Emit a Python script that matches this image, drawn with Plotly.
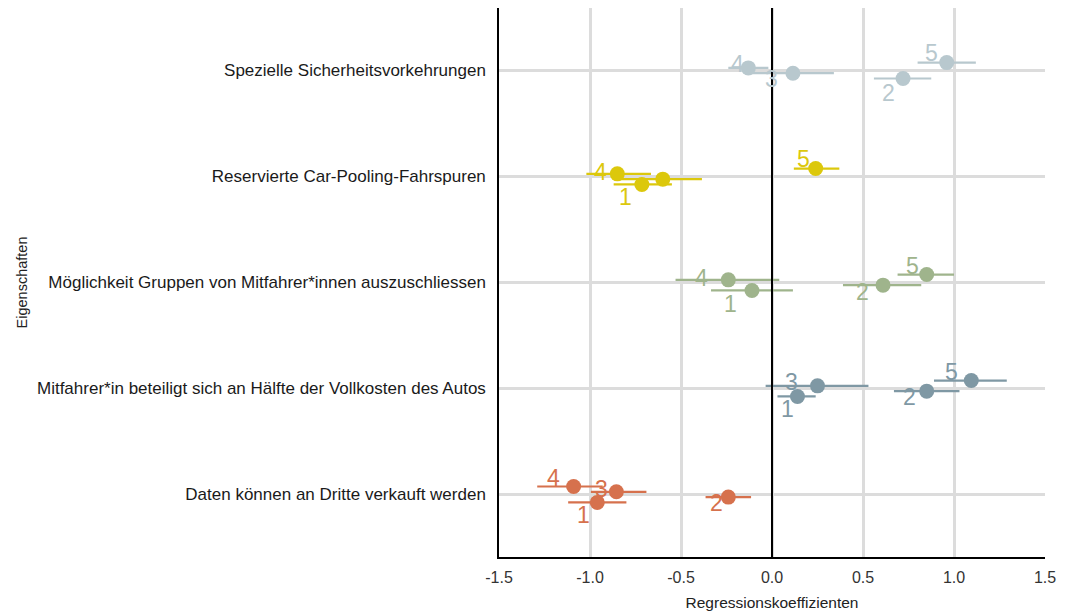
import plotly.graph_objects as go

# Attribute categories, listed from bottom to top of the chart
categories = [
    "Daten können an Dritte verkauft werden",
    "Mitfahrer*in beteiligt sich an Hälfte der Vollkosten des Autos",
    "Möglichkeit Gruppen von Mitfahrer*innen auszuschliessen",
    "Reservierte Car-Pooling-Fahrspuren",
    "Spezielle Sicherheitsvorkehrungen",
]

# Coefficient estimates per category: level, estimate, lower CI, upper CI
daten_levels = [1, 2, 3, 4]
daten_est = [-0.96, -0.24, -0.855, -1.09]
daten_lo = [-1.12, -0.365, -0.995, -1.29]
daten_hi = [-0.80, -0.115, -0.69, -0.93]

kosten_levels = [1, 2, 3, 5]
kosten_est = [0.14, 0.85, 0.25, 1.095]
kosten_lo = [0.03, 0.67, -0.035, 0.89]
kosten_hi = [0.24, 1.03, 0.53, 1.29]

gruppen_levels = [1, 2, 4, 5]
gruppen_est = [-0.11, 0.61, -0.24, 0.85]
gruppen_lo = [-0.335, 0.39, -0.53, 0.69]
gruppen_hi = [0.115, 0.82, 0.04, 1.00]

spuren_levels = [1, 3, 4, 5]
spuren_est = [-0.715, -0.60, -0.85, 0.24]
spuren_lo = [-0.87, -0.83, -1.02, 0.12]
spuren_hi = [-0.55, -0.385, -0.665, 0.37]

sicher_levels = [2, 3, 4, 5]
sicher_est = [0.72, 0.115, -0.13, 0.96]
sicher_lo = [0.56, -0.12, -0.24, 0.80]
sicher_hi = [0.875, 0.34, -0.02, 1.12]

# Which level labels are drawn next to the points (one was suppressed for overlap)
show_label = {
    0: [True, True, True, True],
    1: [True, True, True, True],
    2: [True, True, True, True],
    3: [True, False, True, True],
    4: [True, True, True, True],
}

x_ticks = [-1.5, -1.0, -0.5, 0.0, 0.5, 1.0, 1.5]

rows = [
    (daten_levels, daten_est, daten_lo, daten_hi),
    (kosten_levels, kosten_est, kosten_lo, kosten_hi),
    (gruppen_levels, gruppen_est, gruppen_lo, gruppen_hi),
    (spuren_levels, spuren_est, spuren_lo, spuren_hi),
    (sicher_levels, sicher_est, sicher_lo, sicher_hi),
]

colors = ["#d6714d", "#7f98a4", "#9fb48c", "#dcc80c", "#b8c8ce"]

# Label placement (pixel shifts from the point), per row, per point
label_shift = {
    0: [(-14, -13), (-12, -6), (-15, 3), (-20, 9)],
    1: [(-10, -13), (-17, -6), (-26, 4), (-20, 9)],
    2: [(-21, -14), (-21, -7), (-27, 2), (-14, 9)],
    3: [(-16, -13), (0, 0), (-17, 2), (-12, 10)],
    4: [(-15, -15), (-21, -6), (-11, 4), (-15, 10)],
}

DODGE = 0.05
FONT = "Liberation Sans, Arial, sans-serif"

fig = go.Figure()
annotations = []

for r, (levels, est, lo, hi) in enumerate(rows):
    n = len(levels)
    order = sorted(range(n), key=lambda i: levels[i])
    ys = [0.0] * n
    for rank, i in enumerate(order):
        ys[i] = r + (rank - (n - 1) / 2) * DODGE
    fig.add_trace(go.Scatter(
        x=est, y=ys, mode="markers",
        marker=dict(color=colors[r], size=15),
        error_x=dict(type="data", symmetric=False,
                     array=[h - e for h, e in zip(hi, est)],
                     arrayminus=[e - l for e, l in zip(est, lo)],
                     color=colors[r], thickness=2.2, width=0),
        showlegend=False, hoverinfo="skip",
    ))
    for i in range(n):
        if not show_label[r][i]:
            continue
        dx, dy = label_shift[r][i]
        annotations.append(dict(
            x=est[i], y=ys[i], xref="x", yref="y", text=str(levels[i]),
            showarrow=False, xshift=dx, yshift=dy,
            font=dict(family=FONT, size=23, color=colors[r]),
        ))

fig.add_shape(type="line", x0=0, x1=0, y0=0, y1=1, xref="x", yref="paper",
              line=dict(color="black", width=2))

fig.update_layout(
    width=1068, height=611,
    margin=dict(l=499, r=23, t=8, b=54),
    plot_bgcolor="white", paper_bgcolor="white",
    font=dict(family=FONT, size=15, color="#1a1a1a"),
    annotations=annotations,
    xaxis=dict(
        range=[-1.5, 1.5], tickvals=x_ticks,
        ticktext=[f"{v:.1f}" for v in x_ticks],
        showgrid=True, gridcolor="#dcdcdc", gridwidth=2.5,
        zeroline=False, showline=True, linecolor="black", linewidth=1.5,
        ticks="", ticklabelstandoff=5, tickfont=dict(size=16, color="#333"),
        title=dict(text="Regressionskoeffizienten", font=dict(size=15.5, color="#222"), standoff=12),
        automargin=False,
    ),
    yaxis=dict(
        range=[-0.59, 4.59], tickvals=list(range(len(categories))), ticktext=categories,
        showgrid=True, gridcolor="#dcdcdc", gridwidth=2.5,
        zeroline=False, showline=True, linecolor="black", linewidth=1.5,
        ticks="", ticklabelstandoff=8, tickfont=dict(size=17, color="#1a1a1a"),
        title=dict(text="Eigenschaften", font=dict(size=14.5, color="#222"), standoff=6),
        automargin=False,
    ),
)

fig.write_html("out.html")
